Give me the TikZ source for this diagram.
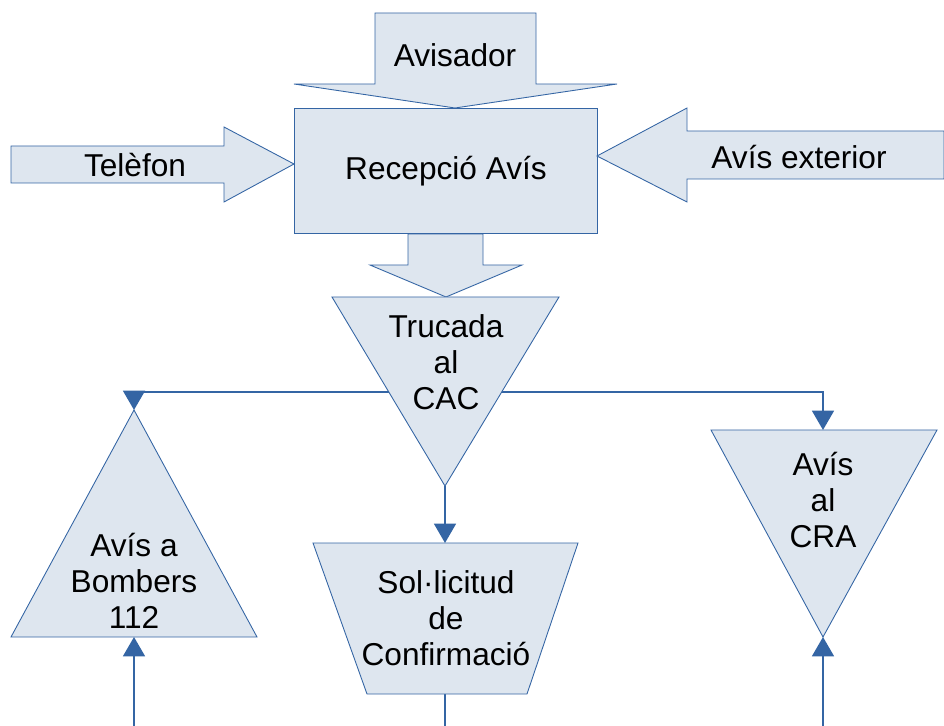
\documentclass[tikz,border=0pt]{standalone}
\usepackage{fontspec}
\setmainfont{Liberation Sans}
\usetikzlibrary{arrows.meta}
\definecolor{lineblue}{HTML}{3465A4}
\definecolor{fillblue}{HTML}{DEE6EF}
\tikzset{
  shapeline/.style={draw=lineblue, fill=fillblue, line width=0.5pt, line join=miter},
  label/.style={align=center, font=\fontsize{18}{20.5}\selectfont, inner sep=0pt},
  link/.style={draw=lineblue, line width=0.9pt},
  linkarrow/.style={link, -{Triangle[length=11pt,width=12.5pt]}}
}
\begin{document}
\begin{tikzpicture}[x=0.02cm, y=-0.02cm]
		%%%%% START %%%%%
		\useasboundingbox (0,0) rectangle (944,726);
		
		% big input arrows and reception box
		\draw[shapeline] (408,234) -- (483,234) -- (483,265) -- (522,265) -- (446,297) -- (370,265) -- (408,265) -- cycle;
		\draw[shapeline] (294.3,108.3) rectangle (597.3,233.7);
		\draw[shapeline] (375,13) -- (536,13) -- (536,84) -- (617,84) -- (455,108) -- (294,84) -- (375,84) -- cycle;
		\draw[shapeline] (11,146) -- (224,146) -- (224,127) -- (294,164) -- (224,202) -- (224,183) -- (11,183) -- cycle;
		\draw[shapeline] (944,131) -- (687,131) -- (687,108) -- (597,156) -- (687,202) -- (687,179) -- (944,179) -- cycle;
		
		\node[label] (avisador) at (455,55) {Avisador};
		\node[label] (telefon) at (135,165) {Telèfon};
		\node[label] (recepcio) at (446,171) {Recepció Avís};
		\node[label] (exterior) at (799,157) {Avís exterior};
		
		% connectors
		\coordinate (trucadaL) at (389,392);
		\coordinate (trucadaR) at (502,392);
		\coordinate (trucadaTip) at (445,486);
		\coordinate (bombersTop) at (134,410);
		\coordinate (bombersBase) at (134,637);
		\coordinate (craTop) at (823,430);
		\coordinate (craTip) at (823,637);
		\coordinate (solTop) at (445,543);
		\coordinate (solBase) at (445,694);
		\coordinate (inBombers) at (134,726);
		\coordinate (inCra) at (823,726);
		\coordinate (outSol) at (445,726);
		
		\draw[linkarrow] (trucadaL) -| (bombersTop);
		\draw[linkarrow] (trucadaR) -| (craTop);
		\draw[linkarrow] (trucadaTip) -- (solTop);
		\draw[linkarrow] (inBombers) -- (bombersBase);
		\draw[linkarrow] (inCra) -- (craTip);
		\draw[link] (solBase) -- (outSol);
		
		% flow shapes
		\draw[shapeline] (332,297) -- (559,297) -- (trucadaTip) -- cycle;
		\draw[shapeline] (bombersTop) -- (257,637) -- (11,637) -- cycle;
		\draw[shapeline] (711,430) -- (937,430) -- (craTip) -- cycle;
		\draw[shapeline] (313,543) -- (578,543) -- (527,694) -- (367,694) -- cycle;
		
		\node[label] (trucada) at (446,362) {Trucada\\al\\CAC};
		\node[label] (bombers) at (134,581) {Avís a\\Bombers\\112};
		\node[label] (cra) at (823,500) {Avís\\al\\CRA};
		\node[label] (solicitud) at (446,618) {Sol·licitud\\de\\Confirmació};
		%%%%% END %%%%%
	\end{tikzpicture}
\end{document}
